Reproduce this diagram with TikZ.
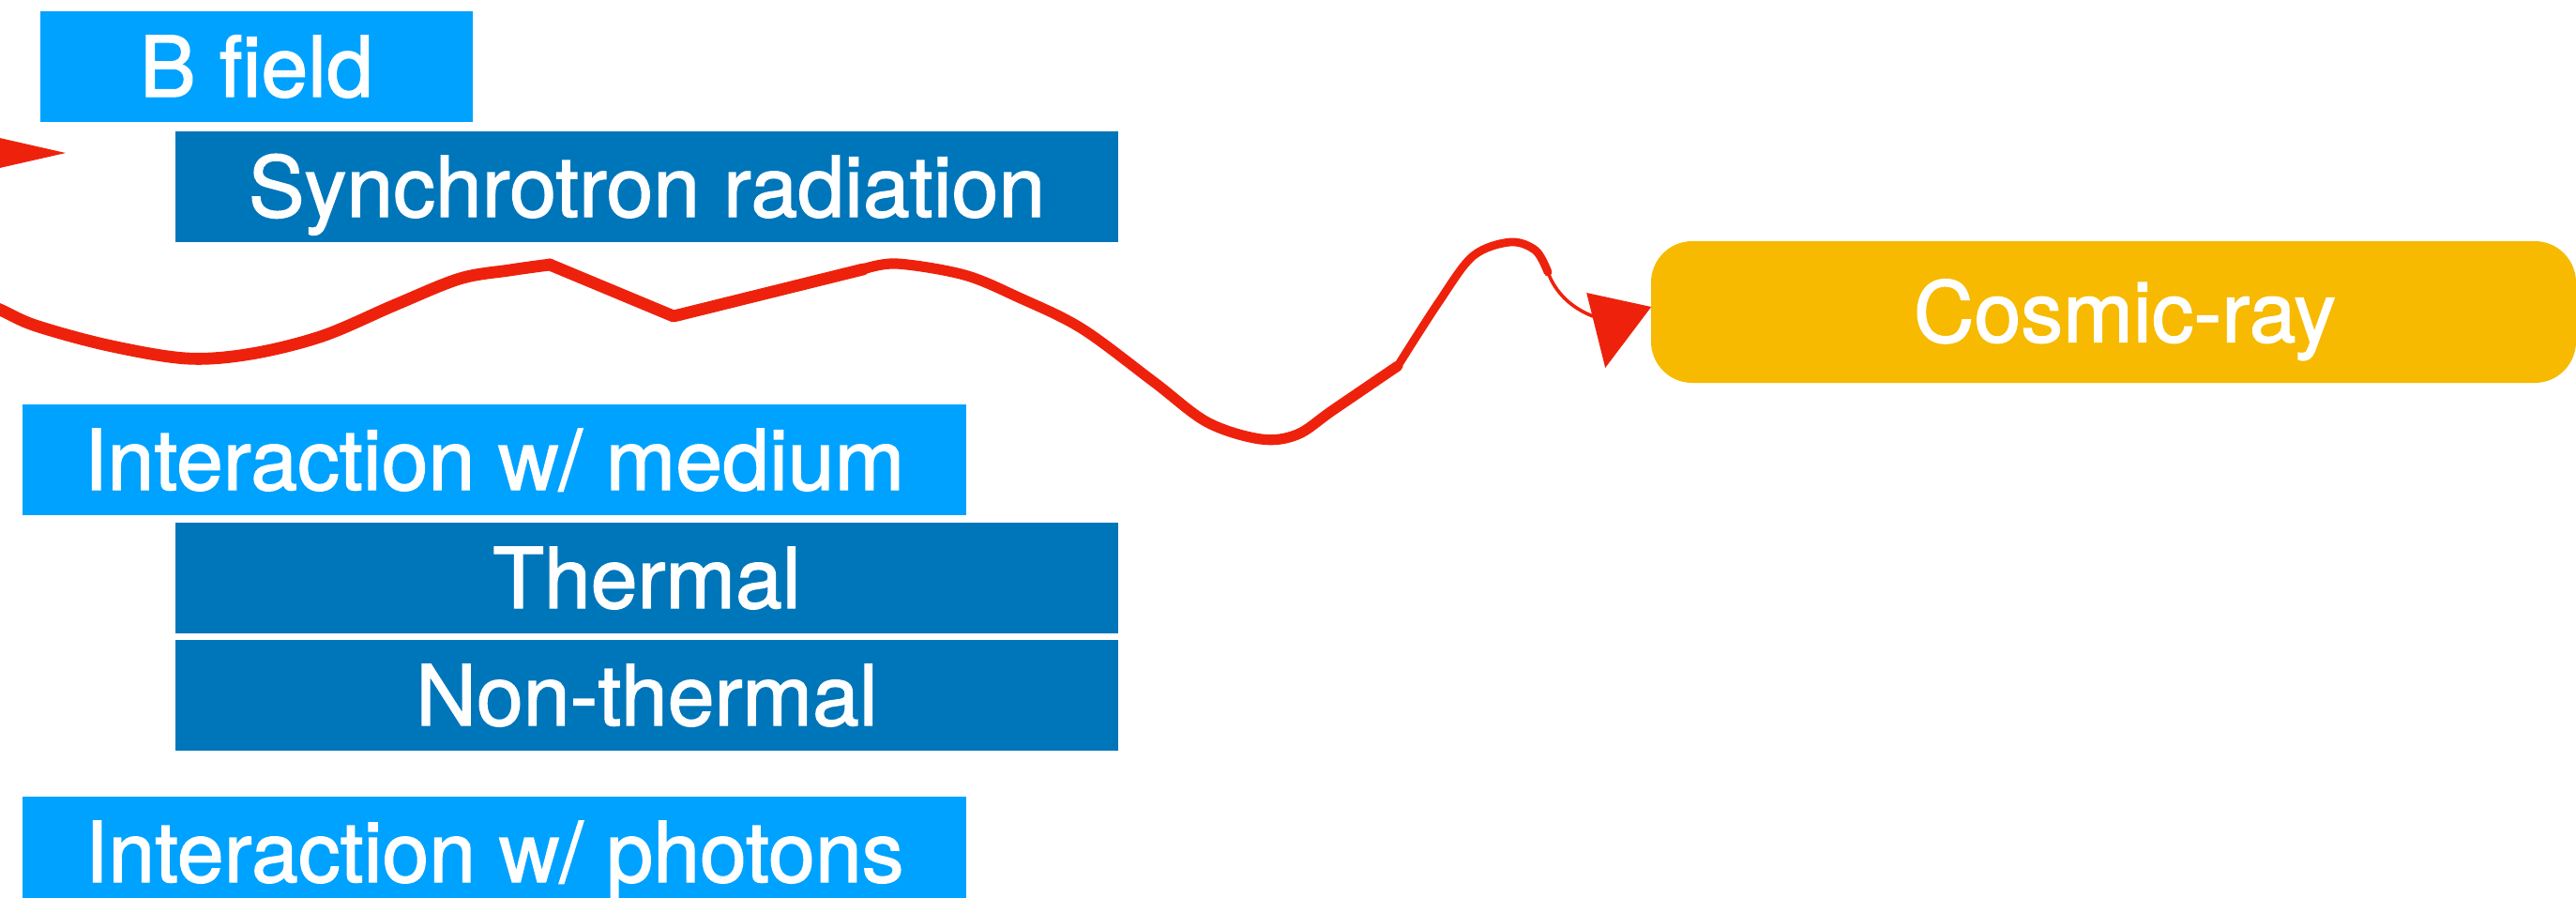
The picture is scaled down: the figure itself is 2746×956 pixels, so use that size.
\documentclass[tikz,border=0pt]{standalone}
\usepackage{fontspec}
\setmainfont[FakeBold=1.5]{TeX Gyre Heros}
\usetikzlibrary{calc}
\definecolor{lblue}{HTML}{00A2FF}
\definecolor{dblue}{HTML}{0076BA}
\definecolor{cryellow}{HTML}{F7BA00}
\definecolor{sred}{HTML}{EE220C}
\begin{document}
\begin{tikzpicture}[x=0.25pt,y=-0.25pt,
  box/.style={rectangle, inner sep=0pt, minimum height=29.5pt, text=white,
    font=\fontsize{22.4}{26}\selectfont, text height=16pt, text depth=0pt},
  light/.style={box, fill=lblue},
  dark/.style={box, fill=dblue},
  wave/.style={draw=sred, line width=3.2pt, line cap=round, line join=round},
  thin wave/.style={draw=sred, line width=0.9pt, line cap=round}]
\useasboundingbox (0,0) rectangle (2746,956);
\clip (0,0) rectangle (2746,956);
% boxes
\node[light, minimum width=115.25pt] (bfield) at (273.5,71) {B field};
\node[dark, minimum width=251.25pt] (synch) at (689.5,199) {Synchrotron radiation};
\node[light, minimum width=251.5pt] (medium) at (527,490) {Interaction w/ medium};
\node[dark, minimum width=251.25pt] (thermal) at (689.5,616) {Thermal};
\node[dark, minimum width=251.25pt] (nonthermal) at (689.5,741) {Non-thermal};
\node[light, minimum width=251.5pt] (photons) at (527,908) {Interaction w/ photons};
\node[box, fill=cryellow, minimum width=246.5pt, minimum height=37.75pt,
  rounded corners=11pt] (cosmic) at (2253,332.5) {\hspace{6pt}Cosmic-ray};
% left arrowhead fragment
\coordinate (ltip) at (70,163);
\fill[sred] (-40,138) -- (ltip) -- (-40,188) -- cycle;
% wavy cosmic-ray path
\coordinate (start) at (-30,318);
\coordinate (k1) at (586,282);
\coordinate (k2) at (718,337);
\coordinate (k3) at (920,287);
\coordinate (k4) at (1490,390);
\coordinate (tail) at (1650,290);
\coordinate (tailend) at (1698,337);
\draw[wave] plot[smooth, tension=0.55] coordinates {(start) (0,330) (38,347) (115,368) (199,382) (268,377) (344,358) (421,325) (490,297) (543,288) (k1)};
\draw[wave] (k1) -- (k2) -- (k3);
\draw[wave, line width=2.8pt] plot[smooth, tension=0.55] coordinates {(k3) (956,281) (1028,293) (1086,317) (1153,350) (1230,407) (1287,450) (1344,468) (1383,463) (1421,437) (k4)};
\draw[wave, line width=2.2pt] plot[smooth, tension=0.55] coordinates {(k4) (1533,323) (1570,273) (1610,258) (1637,267) (tail)};
\draw[thin wave] (tail) .. controls (1658,312) and (1675,328) .. (tailend);
% right arrowhead
\fill[sred] ($(cosmic.west)+(-68,-20.5)$) -- ($(cosmic.west)+(1,-5.5)$) -- ($(cosmic.west)+(-48,59.5)$) -- cycle;
\end{tikzpicture}
\end{document}
